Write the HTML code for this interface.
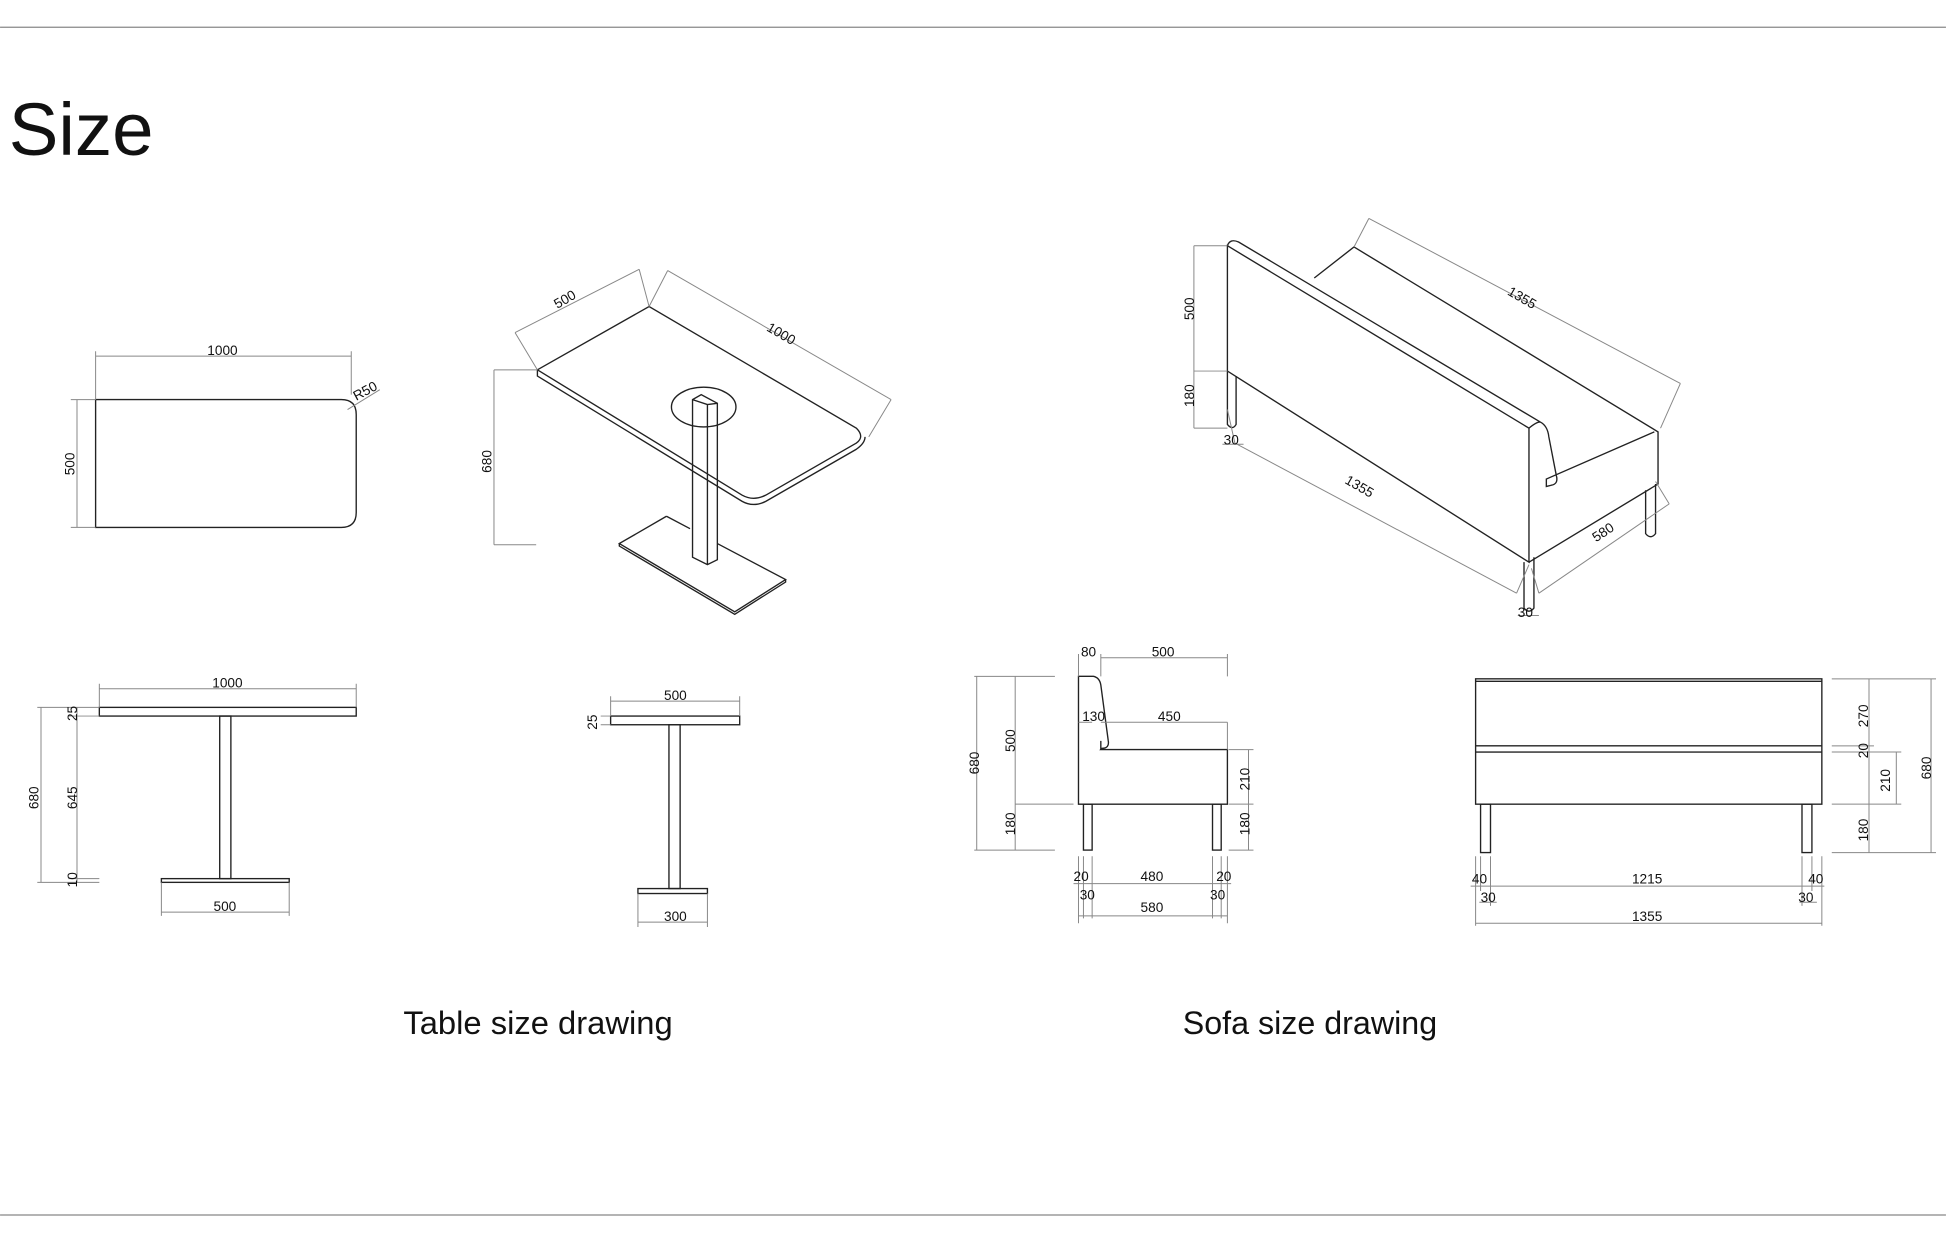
<!DOCTYPE html>
<html><head><meta charset="utf-8"><style>
html,body{margin:0;padding:0;background:#fff;}
svg{display:block;}
text{font-family:"Liberation Sans",sans-serif;fill:#111;}
.o{fill:none;stroke:#222;stroke-width:1.1;}
.d{fill:none;stroke:#888;stroke-width:0.8;}
.t{font-size:11px;}
</style></head><body>
<svg width="1946" height="1259" viewBox="0 0 1568 1014.5" xmlns="http://www.w3.org/2000/svg">
<line x1="0" y1="22" x2="1568" y2="22" stroke="#888" stroke-width="1"/>
<line x1="0" y1="979" x2="1568" y2="979" stroke="#888" stroke-width="1"/>
<text x="7" y="125" font-size="60">Size</text>

<!-- table plan -->
<path class="o" d="M77 322 H275 Q287 322 287 334 V413 Q287 425 275 425 H77 Z"/>
<path class="d" d="M77 287 H283 M77 283 V322 M283 283 V318 M57 322 H77 M57 425 H77 M62 322 V425 M280 330 L306 314"/>
<text class="t" x="167" y="286">1000</text>
<text class="t" transform="translate(60,383) rotate(-90)">500</text>
<text class="t" transform="translate(287,323) rotate(-28)">R50</text>

<!-- table iso -->
<path class="o" d="M433 298 L523 247 L690 345 Q697 352 690 357 L617 399 Q607 404 598 399 Z"/>
<path class="o" d="M433 298 V303 L598 404 Q607 409 617 404 L690 362 Q697 357 697 352"/>
<ellipse class="o" cx="567" cy="328" rx="26" ry="16"/>
<path class="o" d="M558 322 L565 318 L578 325 V451 L570 455 L558 449 Z M570 326 V455 M558 322 L570 326 L578 325"/>
<path class="o" d="M537 416 L556 426 M578 438 L633 467 L592 493 L499 438 L537 416 M499 438 V440 L592 495 L633 469 V467"/>
<path class="d" d="M398 298 H433 M398 439 H432 M398 298 V439 M415 268 L515 217 M415 268 L433 298 M515 217 L523 247 M538 218 L718 322 M538 218 L523 247 M718 322 L700 352"/>
<text class="t" transform="translate(396,381) rotate(-90)">680</text>
<text class="t" transform="translate(449,249) rotate(-30)">500</text>
<text class="t" transform="translate(617,266) rotate(30)">1000</text>

<!-- table front -->
<rect class="o" x="80" y="570" width="207" height="7"/>
<rect class="o" x="177" y="577" width="9" height="131"/>
<rect class="o" x="130" y="708" width="103" height="3"/>
<path class="d" d="M80 555 H287 M80 551 V570 M287 551 V570 M30 570 H80 M30 711 H80 M33 570 V711 M62 570 V711 M55 577 H80 M55 708 H80 M130 711 V738 M233 711 V738 M130 735 H233"/>
<text class="t" x="171" y="554">1000</text>
<text class="t" transform="translate(31,652) rotate(-90)">680</text>
<text class="t" transform="translate(62,652) rotate(-90)">645</text>
<text class="t" transform="translate(62,581) rotate(-90)">25</text>
<text class="t" transform="translate(62,715) rotate(-90)">10</text>
<text class="t" x="172" y="734">500</text>

<!-- table side -->
<rect class="o" x="492" y="577" width="104" height="7"/>
<rect class="o" x="539" y="584" width="9" height="132"/>
<rect class="o" x="514" y="716" width="56" height="4"/>
<path class="d" d="M492 565 H596 M492 561 V577 M596 561 V577 M484 577 H492 M484 584 H492 M514 720 V747 M570 720 V747 M514 743 H570"/>
<text class="t" x="535" y="564">500</text>
<text class="t" transform="translate(481,588) rotate(-90)">25</text>
<text class="t" x="535" y="742">300</text>

<!-- sofa iso -->
<path class="o" d="M989 198 V299 L1232 453 V345 L989 198 Z"/>
<path class="o" d="M989 198 Q991 192 998 195 L1241 340 Q1247 343 1248 352 L1254 383 Q1256 390 1250 391 L1246 392 V386 L1333 348 M1232 345 Q1238 340 1241 340"/>
<path class="o" d="M1059 224 L1091 199 L1336 348 V390 L1232 453"/>
<path class="o" d="M989 299 V342 Q993 347 996 342 V303"/>
<path class="o" d="M1228 453 V490 Q1232 495 1236 490 V449"/>
<path class="o" d="M1326 395 V430 Q1330 435 1334 430 V390"/>
<path class="d" d="M962 198 H989 M962 299 H989 M962 345 H989 M962 198 V345 M1103 176 L1354 309 M1103 176 L1091 199 M1354 309 L1338 345 M995 357 L1222 478 M995 357 L989 330 M1222 478 L1232 455 M1240 478 L1345 406 M1240 478 L1234 458 M1345 406 L1334 388 M985 358 H1002 M1223 496 H1240"/>
<text class="t" transform="translate(962,258) rotate(-90)">500</text>
<text class="t" transform="translate(962,328) rotate(-90)">180</text>
<text class="t" x="986" y="358">30</text>
<text class="t" x="1223" y="497">30</text>
<text class="t" transform="translate(1214,237) rotate(30)">1355</text>
<text class="t" transform="translate(1083,389) rotate(30)">1355</text>
<text class="t" transform="translate(1286,437) rotate(-33)">580</text>

<!-- sofa side -->
<path class="o" d="M869 545 H881 Q886 546 887 552 L893 597 Q894 603 888 603 L887 604 H989 V648 H869 Z"/>
<path class="o" d="M887 597 V604"/>
<rect class="o" x="873" y="648" width="7" height="37"/>
<rect class="o" x="977" y="648" width="7" height="37"/>
<path class="d" d="M887 530 H989 M869 527 V545 M887 527 V545 M989 527 V545 M887 582 H989 M869 582 H880 M989 582 V604 M785 545 H850 M785 685 H850 M787 545 V685 M818 545 V685 M818 648 H865 M990 604 H1010 M990 648 H1010 M990 685 H1010 M1006 604 V685 M865 712 H992 M873 690 V740 M880 690 V740 M977 690 V740 M984 690 V740 M869 738 H989 M869 690 V744 M989 690 V744"/>
<text class="t" x="871" y="529">80</text>
<text class="t" x="928" y="529">500</text>
<text class="t" x="872" y="581">130</text>
<text class="t" x="933" y="581">450</text>
<text class="t" transform="translate(789,624) rotate(-90)">680</text>
<text class="t" transform="translate(818,606) rotate(-90)">500</text>
<text class="t" transform="translate(818,673) rotate(-90)">180</text>
<text class="t" transform="translate(1007,637) rotate(-90)">210</text>
<text class="t" transform="translate(1007,673) rotate(-90)">180</text>
<text class="t" x="865" y="710">20</text>
<text class="t" x="919" y="710">480</text>
<text class="t" x="980" y="710">20</text>
<text class="t" x="870" y="725">30</text>
<text class="t" x="975" y="725">30</text>
<text class="t" x="919" y="735">580</text>

<!-- sofa front -->
<rect class="o" x="1189" y="547" width="279" height="101"/>
<path class="o" d="M1189 549 H1468 M1189 601 H1468 M1189 606 H1468"/>
<rect class="o" x="1193" y="648" width="8" height="39"/>
<rect class="o" x="1452" y="648" width="8" height="39"/>
<path class="d" d="M1476 547 H1560 M1476 601 H1510 M1476 606 H1532 M1476 648 H1532 M1476 687 H1560 M1506 547 V687 M1528 606 V648 M1556 547 V687 M1185 714 H1470 M1189 690 V746 M1193 690 V718 M1201 690 V730 M1452 690 V730 M1460 690 V718 M1468 690 V746 M1189 744 H1468 M1192 727 H1206 M1450 727 H1464"/>
<text class="t" transform="translate(1505,586) rotate(-90)">270</text>
<text class="t" transform="translate(1505,611) rotate(-90)">20</text>
<text class="t" transform="translate(1523,638) rotate(-90)">210</text>
<text class="t" transform="translate(1556,628) rotate(-90)">680</text>
<text class="t" transform="translate(1505,678) rotate(-90)">180</text>
<text class="t" x="1186" y="712">40</text>
<text class="t" x="1315" y="712">1215</text>
<text class="t" x="1457" y="712">40</text>
<text class="t" x="1193" y="727">30</text>
<text class="t" x="1449" y="727">30</text>
<text class="t" x="1315" y="742">1355</text>

<text x="325" y="833" font-size="26" textLength="217" lengthAdjust="spacingAndGlyphs">Table size drawing</text>
<text x="953" y="833" font-size="26" textLength="205" lengthAdjust="spacingAndGlyphs">Sofa size drawing</text>
</svg>
</body></html>
